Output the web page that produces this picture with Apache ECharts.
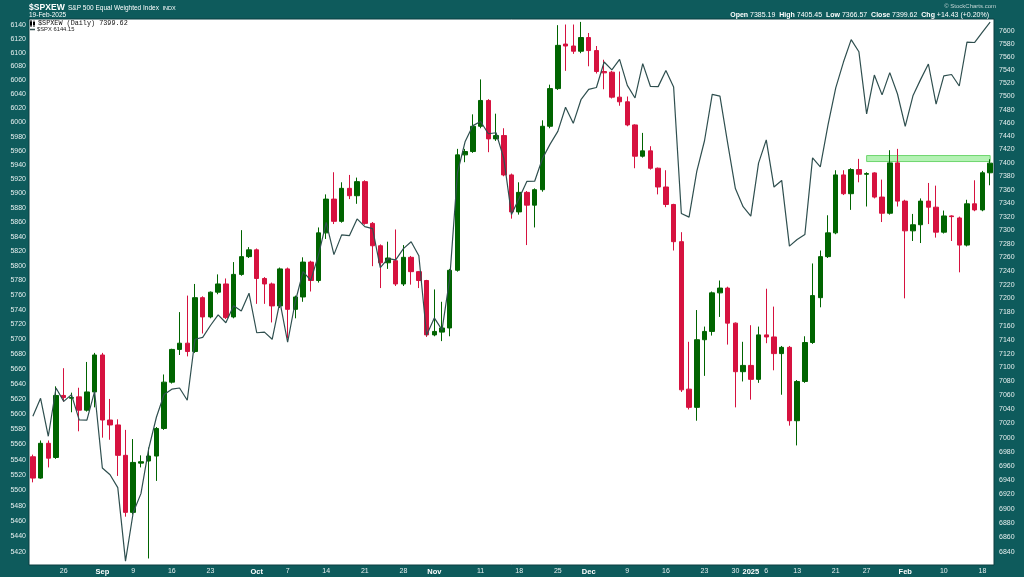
<!DOCTYPE html>
<html><head><meta charset="utf-8">
<script src="https://cdn.jsdelivr.net/npm/echarts@6/dist/echarts.min.js"></script>
<style>html,body{margin:0;padding:0;background:#0e5b5c;}#c{width:1024px;height:577px;}</style>
</head><body><div id="c"></div>
<script>
const dates = [
'2024-08-20','2024-08-21','2024-08-22','2024-08-23','2024-08-26','2024-08-27','2024-08-28','2024-08-29','2024-08-30',
'2024-09-03','2024-09-04','2024-09-05','2024-09-06','2024-09-09','2024-09-10','2024-09-11','2024-09-12','2024-09-13','2024-09-16','2024-09-17','2024-09-18','2024-09-19','2024-09-20','2024-09-23','2024-09-24','2024-09-25','2024-09-26','2024-09-27','2024-09-30',
'2024-10-01','2024-10-02','2024-10-03','2024-10-04','2024-10-07','2024-10-08','2024-10-09','2024-10-10','2024-10-11','2024-10-14','2024-10-15','2024-10-16','2024-10-17','2024-10-18','2024-10-21','2024-10-22','2024-10-23','2024-10-24','2024-10-25','2024-10-28','2024-10-29','2024-10-30','2024-10-31',
'2024-11-01','2024-11-04','2024-11-05','2024-11-06','2024-11-07','2024-11-08','2024-11-11','2024-11-12','2024-11-13','2024-11-14','2024-11-15','2024-11-18','2024-11-19','2024-11-20','2024-11-21','2024-11-22','2024-11-25','2024-11-26','2024-11-27','2024-11-29',
'2024-12-02','2024-12-03','2024-12-04','2024-12-05','2024-12-06','2024-12-09','2024-12-10','2024-12-11','2024-12-12','2024-12-13','2024-12-16','2024-12-17','2024-12-18','2024-12-19','2024-12-20','2024-12-23','2024-12-24','2024-12-26','2024-12-27','2024-12-30','2024-12-31',
'2025-01-02','2025-01-03','2025-01-06','2025-01-07','2025-01-08','2025-01-10','2025-01-13','2025-01-14','2025-01-15','2025-01-16','2025-01-17','2025-01-21','2025-01-22','2025-01-23','2025-01-24','2025-01-27','2025-01-28','2025-01-29','2025-01-30','2025-01-31',
'2025-02-03','2025-02-04','2025-02-05','2025-02-06','2025-02-07','2025-02-10','2025-02-11','2025-02-12','2025-02-13','2025-02-14','2025-02-18','2025-02-19'];

const ewOpen = [
6973,6943,6992,6972,7060,7056,7058,7039,7065,7118,
7025,7018,6975,6895,6964,6967,6974,7013,7079,7126,
7135,7123,7201,7173,7209,7221,7173,7235,7261,7271,
7229,7221,7189,7243,7184,7202,7253,7226,7296,7346,
7313,7362,7351,7372,7310,7277,7252,7255,7221,7260,
7239,7226,7147,7151,7157,7241,7412,7417,7455,7494,
7436,7441,7382,7327,7356,7337,7360,7455,7512,7580,
7577,7569,7590,7570,7538,7537,7499,7492,7457,7410,
7418,7392,7364,7338,7283,7069,7043,7140,7152,7208,
7215,7164,7094,7103,7083,7147,7144,7120,7129,7024,
7080,7136,7201,7261,7296,7382,7354,7390,7383,7385,
7349,7325,7400,7343,7299,7308,7343,7334,7297,7321,
7318,7278,7339,7330,7385.19];
const ewHigh = [
6976,6996,6996,7073,7099,7064,7071,7108,7121,7121,
7055,7026,7011,6998,6975,6986,7015,7090,7127,7180,
7204,7221,7203,7210,7235,7229,7253,7300,7275,7273,
7231,7223,7245,7245,7204,7260,7255,7304,7353,7386,
7371,7382,7378,7374,7312,7279,7283,7301,7278,7262,
7240,7227,7213,7195,7243,7421,7421,7473,7526,7496,
7474,7452,7384,7371,7358,7362,7464,7518,7609,7610,
7610,7614,7597,7577,7556,7539,7538,7500,7458,7445,
7425,7393,7389,7339,7297,7137,7183,7159,7210,7226,
7217,7165,7137,7161,7159,7214,7188,7131,7131,7082,
7145,7251,7270,7322,7389,7389,7392,7406,7386,7386,
7375,7419,7421,7345,7324,7347,7370,7366,7329,7322,
7320,7345,7374,7388,7405.45];
const ewLow = [
6937,6942,6958,6970,7051,7036,7009,7037,7043,7000,
6997,6946,6889,6892,6958,6831,6939,7011,7077,7118,
7116,7121,7149,7171,7206,7170,7171,7233,7259,7192,
7192,7165,7186,7142,7171,7195,7210,7223,7287,7309,
7311,7346,7339,7308,7247,7215,7243,7218,7218,7220,
7215,7144,7145,7138,7145,7239,7401,7415,7452,7416,
7433,7380,7317,7323,7278,7304,7357,7452,7510,7539,
7565,7566,7546,7535,7511,7497,7486,7455,7392,7408,
7390,7353,7334,7270,7065,7040,7024,7088,7146,7173,
7133,7043,7080,7054,7078,7135,7096,7061,7017,6989,
7078,7134,7187,7259,7294,7352,7330,7371,7335,7347,
7312,7323,7335,7200,7284,7281,7309,7289,7295,7284,
7238,7276,7328,7328,7366.57];
const ewClose = [
6943,6992,6971,7060,7057,7057,7039,7065,7118,7025,
7018,6975,6895,6965,6966,6974,7013,7079,7126,7135,
7123,7201,7173,7209,7221,7172,7235,7261,7271,7229,
7221,7189,7243,7184,7202,7253,7226,7296,7346,7313,
7362,7351,7372,7310,7277,7252,7259,7221,7260,7239,
7226,7147,7152,7157,7241,7412,7417,7455,7494,7436,
7441,7382,7327,7356,7337,7360,7455,7512,7578,7577,
7569,7590,7570,7538,7536,7499,7492,7457,7410,7418,
7392,7364,7338,7283,7068,7043,7140,7152,7208,7215,
7164,7094,7103,7083,7147,7144,7120,7129,7024,7080,
7136,7204,7261,7296,7382,7354,7390,7383,7384,7349,
7325,7400,7343,7299,7308,7343,7334,7297,7321,7320,
7278,7339,7330,7385.19,7399.62];

const spxClose = [
5597.12,5620.85,5570.64,5634.61,5616.84,5625.80,5592.18,5591.96,5630.00,
5528.93,5520.07,5503.41,5408.42,5471.05,5495.52,5554.13,5595.76,5626.02,5633.09,5634.58,5618.26,5700.00,5702.55,5718.57,5732.93,5722.26,5745.37,5738.17,5762.48,
5708.75,5709.54,5699.94,5751.07,5695.94,5751.13,5792.04,5780.05,5815.03,5859.85,5815.26,5842.47,5841.47,5864.67,5853.98,5851.20,5797.42,5809.86,5808.12,5823.52,5832.92,5813.67,5705.45,
5728.80,5712.69,5782.76,5929.04,5973.10,5995.54,6001.35,5983.99,5985.38,5949.17,5870.62,5893.62,5916.98,5917.11,5948.71,5969.34,5987.37,6021.63,5998.74,6032.38,
6047.15,6049.88,6086.49,6075.11,6090.27,6052.85,6034.91,6084.19,6051.25,6051.09,6074.08,6050.61,5872.16,5867.08,5930.85,5974.07,6040.04,6037.59,5970.84,5906.94,5881.63,
5868.55,5942.47,5975.38,5909.03,5918.25,5827.04,5836.22,5842.91,5949.91,5937.34,5996.66,6049.24,6086.37,6118.71,6101.24,6012.28,6067.70,6039.31,6071.17,6040.53,
5994.57,6037.88,6061.48,6083.57,6025.99,6066.44,6068.50,6051.97,6115.07,6114.63,6129.58,6144.15];

const spxTicks = [5420,5440,5460,5480,5500,5520,5540,5560,5580,5600,5620,5640,5660,5680,5700,5720,5740,5760,5780,5800,5820,5840,5860,5880,5900,5920,5940,5960,5980,6000,6020,6040,6060,6080,6100,6120,6140];
const ewTicks = [6840,6860,6880,6900,6920,6940,6960,6980,7000,7020,7040,7060,7080,7100,7120,7140,7160,7180,7200,7220,7240,7260,7280,7300,7320,7340,7360,7380,7400,7420,7440,7460,7480,7500,7520,7540,7560,7580,7600];

const xTickDates = ['2024-08-26','2024-09-03','2024-09-09','2024-09-16','2024-09-23','2024-10-01','2024-10-07','2024-10-14','2024-10-21','2024-10-28','2024-11-01','2024-11-11','2024-11-18','2024-11-25','2024-12-02','2024-12-09','2024-12-16','2024-12-23','2024-12-30','2025-01-02','2025-01-06','2025-01-13','2025-01-21','2025-01-27','2025-02-03','2025-02-10','2025-02-18'];
const xTickTexts = ['26','Sep','9','16','23','Oct','7','14','21','28','Nov','11','18','25','Dec','9','16','23','30','2025','6','13','21','27','Feb','10','18'];
const xTickBold = ['Sep','Oct','Nov','Dec','2025','Feb'];

const resistFrom = '2025-01-27';
const resistTo = '2025-02-19';
const resistBand = [7402, 7411];

const FONT = '"Liberation Sans", Arial, sans-serif';
const tickMap = {};
xTickDates.forEach((d, k) => { tickMap[dates.indexOf(d)] = xTickTexts[k]; });

const last = dates.length - 1;
const chg = ewClose[last] - ewClose[last - 1];
const pct = chg / ewClose[last - 1] * 100;
const sgn = v => (v >= 0 ? '+' : '') + v.toFixed(2);

const chart = echarts.init(document.getElementById('c'), null, {renderer: 'canvas'});
const option = {
  backgroundColor: '#0e5b5c',
  animation: false,
  grid: {left: 29, right: 30, top: 19, bottom: 12, show: true, backgroundColor: '#ffffff',
         borderColor: '#0a3f40', borderWidth: 1, containLabel: false, outerBoundsMode: 'none'},
  xAxis: {
    type: 'category', data: dates, boundaryGap: true,
    axisLine: {show: false}, axisTick: {show: false}, splitLine: {show: false},
    axisLabel: {
      interval: (i) => tickMap[i] !== undefined,
      formatter: (v, i) => {
        const t = tickMap[i];
        if (t === undefined) return '';
        return xTickBold.indexOf(t) >= 0 ? '{b|' + t + '}' : t;
      },
      color: '#e6efef', fontSize: 7, fontFamily: FONT, margin: 3,
      rich: {b: {fontWeight: 'bold', fontSize: 7.5, color: '#ffffff', fontFamily: FONT}}
    }
  },
  yAxis: [
    {type: 'log', position: 'left', min: 5403.5, max: 6148.7,
     axisLine: {show: false}, axisTick: {show: false}, splitLine: {show: false},
     axisLabel: {customValues: spxTicks, formatter: v => String(Math.round(v)),
                 color: '#e6efef', fontSize: 7, fontFamily: FONT, margin: 3}},
    {type: 'log', position: 'right', min: 6822, max: 7618.5,
     axisLine: {show: false}, axisTick: {show: false}, splitLine: {show: false},
     axisLabel: {customValues: ewTicks, formatter: v => String(Math.round(v)),
                 color: '#e6efef', fontSize: 7, fontFamily: FONT, margin: 5}}
  ],
  series: [
    {
      type: 'candlestick', name: '$SPXEW', xAxisIndex: 0, yAxisIndex: 1, barWidth: 5,
      data: dates.map((d, i) => [ewOpen[i], ewClose[i], ewLow[i], ewHigh[i]]),
      itemStyle: {color: '#006400', color0: '#d6123f', borderColor: '#006400', borderColor0: '#d6123f', borderWidth: 1},
      z: 2,
      markArea: {
        silent: true,
        itemStyle: {color: '#b4f2b4', borderColor: '#6fd66f', borderWidth: 1},
        data: [[{xAxis: resistFrom, yAxis: resistBand[0]}, {xAxis: resistTo, yAxis: resistBand[1]}]]
      }
    },
    {
      type: 'line', name: '$SPX', xAxisIndex: 0, yAxisIndex: 0, data: spxClose,
      symbol: 'none', smooth: false, z: 3,
      lineStyle: {color: '#2f4f4f', width: 1.2}
    }
  ],
  graphic: [
    {type: 'text', x: 29, y: 7.5, style: {text: '$SPXEW', fill: '#ffffff', font: 'bold 8.6px ' + FONT, verticalAlign: 'middle'}},
    {type: 'text', x: 68, y: 8, style: {text: 'S&P 500 Equal Weighted Index  {s|INDX}', fill: '#ffffff', font: '6.5px ' + FONT, verticalAlign: 'middle', rich: {s: {fontSize: 5.5, fill: '#ffffff'}}}},
    {type: 'text', x: 29, y: 15, style: {text: '19-Feb-2025', fill: '#ffffff', font: '6.5px ' + FONT, verticalAlign: 'middle'}},
    {type: 'text', x: 996, y: 6, style: {text: '\u00A9 StockCharts.com', fill: '#c6d6d6', font: '6px ' + FONT, align: 'right', verticalAlign: 'middle'}},
    {type: 'text', x: 989, y: 15, style: {
      text: '{b|Open} ' + ewOpen[last].toFixed(2) + '  {b|High} ' + ewHigh[last].toFixed(2) + '  {b|Low} ' + ewLow[last].toFixed(2) +
            '  {b|Close} ' + ewClose[last].toFixed(2) + '  {b|Chg} ' + sgn(chg) + ' (' + sgn(pct) + '%)',
      fill: '#ffffff', font: '7px ' + FONT, align: 'right', verticalAlign: 'middle',
      rich: {b: {fontWeight: 'bold', fontSize: 7, fill: '#ffffff'}}}},
    {type: 'line', shape: {x1: 31, y1: 20, x2: 31, y2: 27}, style: {stroke: '#000', lineWidth: 1}},
    {type: 'rect', shape: {x: 30, y: 21.5, width: 2, height: 4}, style: {fill: '#000'}},
    {type: 'line', shape: {x1: 34, y1: 20.5, x2: 34, y2: 27}, style: {stroke: '#000', lineWidth: 1}},
    {type: 'rect', shape: {x: 33, y: 22, width: 2, height: 3}, style: {fill: '#000'}},
    {type: 'text', x: 38, y: 23.5, style: {text: '$SPXEW (Daily) ' + ewClose[last].toFixed(2), fill: '#111', font: '6.8px "Liberation Mono", "DejaVu Sans Mono", monospace', verticalAlign: 'middle'}},
    {type: 'line', shape: {x1: 30, y1: 29.5, x2: 35, y2: 29.5}, style: {stroke: '#2f4f4f', lineWidth: 1.5}},
    {type: 'text', x: 37, y: 29.7, style: {text: '$SPX ' + spxClose[last].toFixed(2), fill: '#222', font: '5.8px ' + FONT, verticalAlign: 'middle'}}
  ]
};
chart.setOption(option);
</script>
</body></html>
